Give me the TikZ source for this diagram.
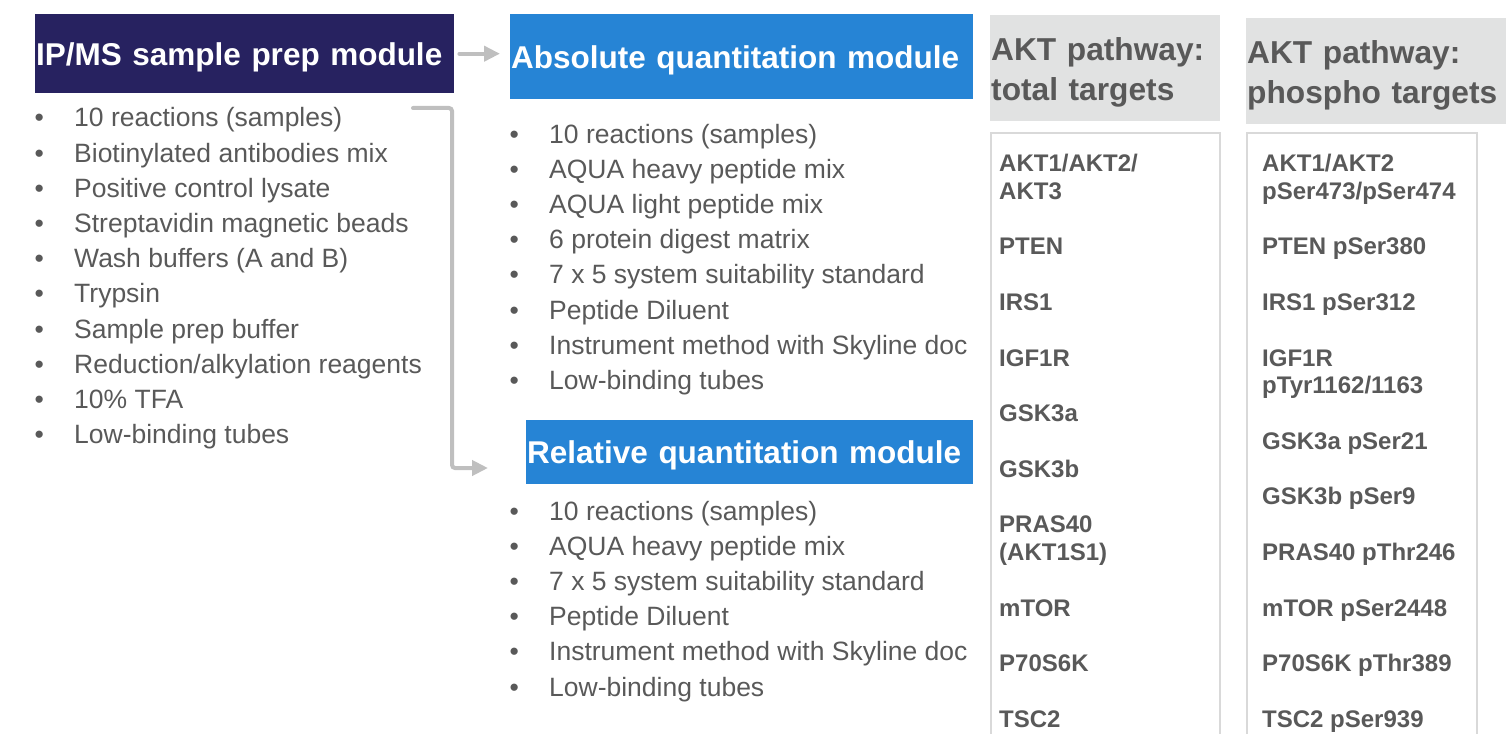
\documentclass[tikz,border=0pt]{standalone}
\usepackage{fontspec}
\setmainfont{Liberation Sans}
\usepackage{xcolor}
\usepackage{tikz}
\usetikzlibrary{arrows.meta,positioning}

\definecolor{navy}{RGB}{39,34,96}
\definecolor{modblue}{RGB}{38,132,213}
\definecolor{hdrgray}{RGB}{225,226,226}
\definecolor{txtgray}{RGB}{89,89,89}
\definecolor{rulegray}{RGB}{217,217,217}
\definecolor{arrgray}{RGB}{191,191,191}

\begin{document}
\begin{tikzpicture}[
  x=1pt, y=-1pt,
  modbox/.style={rectangle, anchor=north west, inner xsep=1pt, inner ysep=0pt,
                 text=white, align=left, text height=23pt, text depth=0pt,
                 font=\fontsize{31.5}{38}\selectfont\bfseries},
  hdrbox/.style={rectangle, anchor=north west, fill=hdrgray, inner xsep=1pt,
                 inner ysep=0pt, minimum height=106pt, text=txtgray, align=left,
                 font=\fontsize{31.7}{40}\selectfont\bfseries},
  listbox/.style={rectangle, anchor=north west, draw=rulegray, line width=1.5pt,
                  minimum height=640pt},
  items/.style={anchor=base west, inner sep=0pt, text=txtgray,
                font=\fontsize{26.5}{35.2}\selectfont},
  targets/.style={anchor=base west, inner sep=0pt, text=txtgray,
                  font=\fontsize{24}{27.7}\selectfont\bfseries},
  arr/.style={-{Triangle[length=16pt,width=15pt]}, line width=4pt, draw=arrgray,
              line cap=round, rounded corners=3pt}
]
\useasboundingbox (0,0) rectangle (1506,733);
%% ── Module headers ──────────────────────────────────────────────────────
\node[modbox, fill=navy, text width=417pt, minimum height=79pt] (prep) at (35,14)
      {IP/MS sample prep module};
\node[modbox, fill=modblue, text width=461pt, minimum height=85pt] (abs) at (510,14)
      {Absolute quantitation module};
\node[modbox, fill=modblue, text width=445pt, minimum height=64pt] (rel) at (526,420)
      {Relative quantitation module};
%% ── Kit contents ────────────────────────────────────────────────────────
\node[items] (preplist) at (34.4,127) {\begin{tabular}[t]{@{}p{39.6pt}@{}l@{}}
  •&10 reactions (samples)\\
  •&Biotinylated antibodies mix\\
  •&Positive control lysate\\
  •&Streptavidin magnetic beads\\
  •&Wash buffers (A and B)\\
  •&Trypsin\\
  •&Sample prep buffer\\
  •&Reduction/alkylation reagents\\
  •&10\% TFA\\
  •&Low-binding tubes
\end{tabular}};
\node[items] (abslist) at (509.4,143) {\begin{tabular}[t]{@{}p{39.6pt}@{}l@{}}
  •&10 reactions (samples)\\
  •&AQUA heavy peptide mix\\
  •&AQUA light peptide mix\\
  •&6 protein digest matrix\\
  •&7 x 5 system suitability standard\\
  •&Peptide Diluent\\
  •&Instrument method with Skyline doc\\
  •&Low-binding tubes
\end{tabular}};
\node[items] (rellist) at (509.4,520) {\begin{tabular}[t]{@{}p{39.6pt}@{}l@{}}
  •&10 reactions (samples)\\
  •&AQUA heavy peptide mix\\
  •&7 x 5 system suitability standard\\
  •&Peptide Diluent\\
  •&Instrument method with Skyline doc\\
  •&Low-binding tubes
\end{tabular}};
%% ── AKT pathway columns ─────────────────────────────────────────────────
\node[hdrbox, text width=228pt] (tothdr) at (990,15)
      {\rule{0pt}{31pt}AKT pathway:\\total targets};
\node[hdrbox, text width=258pt] (phoshdr) at (1246,18)
      {\rule{0pt}{31pt}AKT pathway:\\phospho targets};
\node[listbox, minimum width=229pt] (totbox) at (990,132) {};
\node[listbox, minimum width=230pt] (phosbox) at (1246,132) {};
\node[targets] (tottgt) at (999,171.5) {\begin{tabular}[t]{@{}l@{}}
  AKT1/AKT2/\\ AKT3\\[27.9pt]
  PTEN\\[27.9pt]
  IRS1\\[27.9pt]
  IGF1R\\[27.9pt]
  GSK3a\\[27.9pt]
  GSK3b\\[27.9pt]
  PRAS40\\ (AKT1S1)\\[27.9pt]
  mTOR\\[27.9pt]
  P70S6K\\[27.9pt]
  TSC2
\end{tabular}};
\node[targets] (phostgt) at (1262,171.5) {\begin{tabular}[t]{@{}l@{}}
  AKT1/AKT2\\ pSer473/pSer474\\[27.9pt]
  PTEN pSer380\\[27.9pt]
  IRS1 pSer312\\[27.9pt]
  IGF1R\\ pTyr1162/1163\\[27.9pt]
  GSK3a pSer21\\[27.9pt]
  GSK3b pSer9\\[27.9pt]
  PRAS40 pThr246\\[27.9pt]
  mTOR pSer2448\\[27.9pt]
  P70S6K pThr389\\[27.9pt]
  TSC2 pSer939
\end{tabular}};
%% ── Arrows: prep → quantitation modules ─────────────────────────────────
\coordinate (bend) at (413,108);
\coordinate (relin) at (488,468);
\draw[arr] ([xshift=5pt]prep.east) -- ([xshift=-10pt]prep.east -| abs.west);
\draw[arr] (bend) -- ++(39,0) |- (relin);
\end{tikzpicture}
\end{document}
